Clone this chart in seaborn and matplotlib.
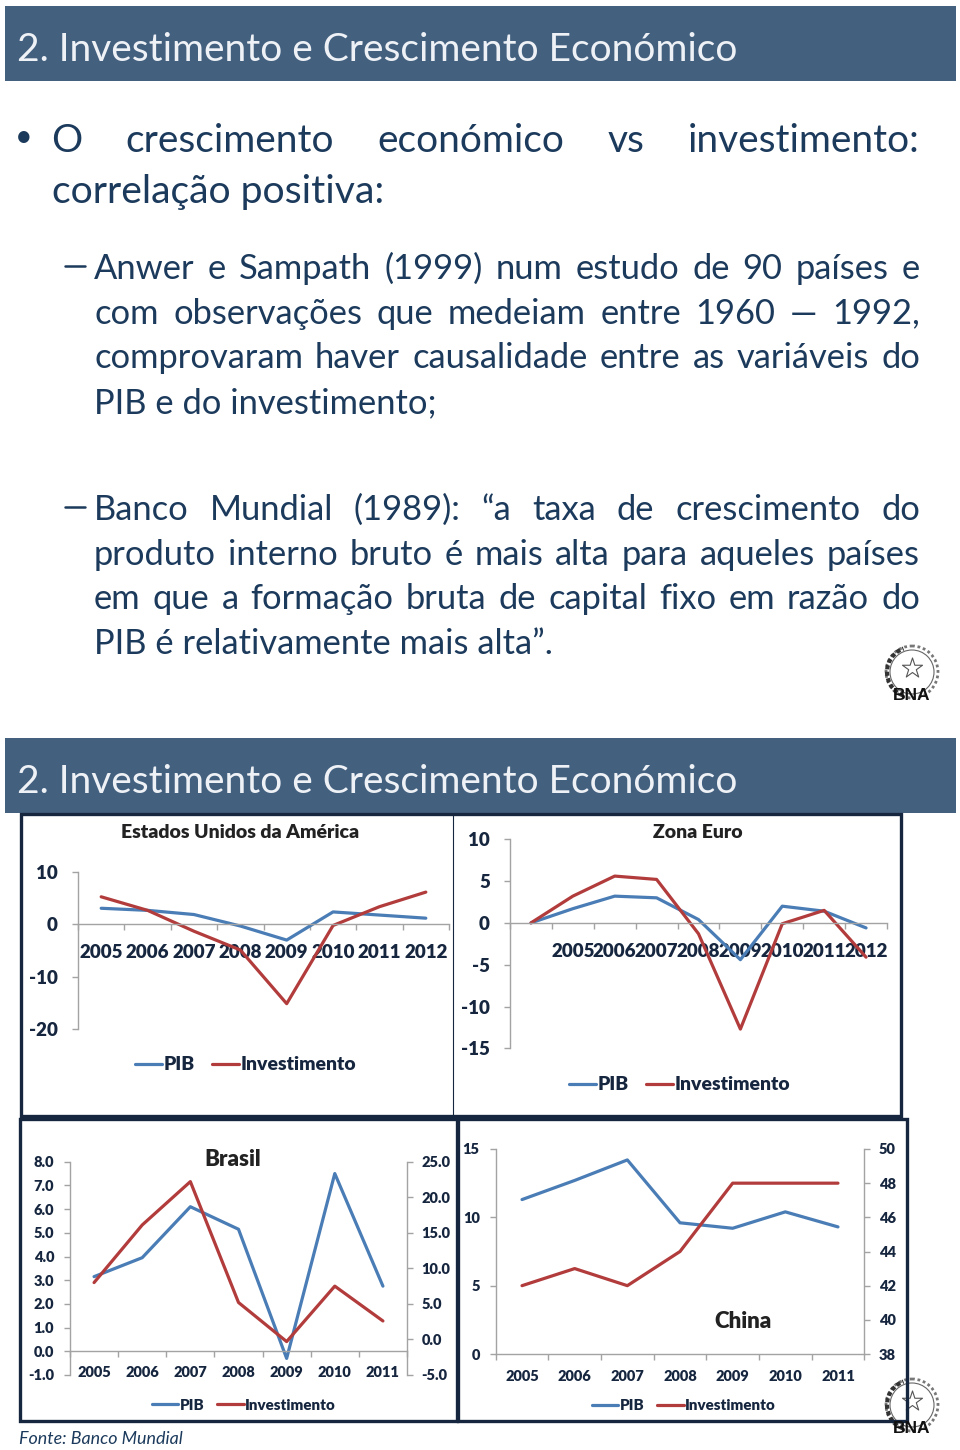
import matplotlib
matplotlib.use('Agg')
import matplotlib.pyplot as plt
from matplotlib.patches import Rectangle, Circle, Arc
import seaborn as sns

# data
years_usa = ["2005", "2006", "2007", "2008", "2009", "2010", "2011", "2012"]
usa_pib = [3.1, 2.7, 1.9, -0.3, -3.0, 2.4, 1.8, 1.2]
usa_inv = [5.3, 2.7, -1.3, -4.9, -15.2, -0.2, 3.4, 6.2]
usa_yticks = [-20, -10, 0, 10]

# the euro chart has an empty first category
years_euro = [" ", "2005", "2006", "2007", "2008", "2009", "2010", "2011", "2012"]
euro_pib = [0.0, 1.7, 3.2, 3.0, 0.4, -4.4, 2.0, 1.4, -0.6]
euro_inv = [0.0, 3.2, 5.6, 5.2, -1.3, -12.7, -0.1, 1.5, -4.1]
euro_yticks = [-15, -10, -5, 0, 5, 10]

years_short = ["2005", "2006", "2007", "2008", "2009", "2010", "2011"]
brasil_pib = [3.15, 3.95, 6.1, 5.15, -0.3, 7.5, 2.75]
brasil_inv = [8.0, 16.1, 22.2, 5.2, -0.3, 7.5, 2.6]
brasil_yticks = [-1, 0, 1, 2, 3, 4, 5, 6, 7, 8]
brasil_y2ticks = [-5, 0, 5, 10, 15, 20, 25]

china_pib = [11.3, 12.7, 14.2, 9.6, 9.2, 10.4, 9.3]
china_inv = [42, 43, 42, 44, 48, 48, 48]
china_yticks = [0, 5, 10, 15]
china_y2ticks = [38, 40, 42, 44, 46, 48, 50]

HEADER = "2. Investimento e Crescimento Económico"
LINE_TOP = "O crescimento económico vs investimento:"
LINE_TOP2 = "correlação positiva:"
PARA1 = ["Anwer e Sampath (1999) num estudo de 90 países e",
         "com observações que medeiam entre 1960 — 1992,",
         "comprovaram haver causalidade entre as variáveis do",
         "PIB e do investimento;"]
PARA2 = ["Banco Mundial (1989): “a taxa de crescimento do",
         "produto interno bruto é mais alta para aqueles países",
         "em que a formação bruta de capital fixo em razão do",
         "PIB é relativamente mais alta”."]

BLUE = "#4a7db5"
RED = "#b23c3c"
NAVY = "#16263f"
BODY = "#1c3a5c"
GREY = "#a3a3a3"
BAR = "#44607f"
HEAVY = 800

sns.set_style("white")
plt.rcParams['font.family'] = ['Lato', 'DejaVu Sans']

W, H = 960, 1450
fig = plt.figure(figsize=(W / 100, H / 100), dpi=100)

# overlay in pixel coordinates for the slide furniture
page = fig.add_axes([0, 0, 1, 1], zorder=5)
page.set_xlim(0, W)
page.set_ylim(H, 0)
page.axis('off')
page.patch.set_alpha(0)
renderer = fig.canvas.get_renderer()


def justified(line, x0, x1, base, size):
    words = line.split()
    items = [page.text(0, base, w, fontsize=size, color=BODY, va='baseline') for w in words]
    widths = [t.get_window_extent(renderer).width for t in items]
    gap = (x1 - x0 - sum(widths)) / (len(words) - 1)
    x = x0
    for t, w in zip(items, widths):
        t.set_x(x)
        x += w + gap


def logo(cx, cy):
    page.add_patch(Circle((cx, cy - 6), 22, fill=False, ec="#666666", lw=0.8))
    page.add_patch(Circle((cx, cy - 6), 26, fill=False, ec="#777777", lw=2.0, ls=(0, (1, 1))))
    page.add_patch(Arc((cx, cy - 6), 50, 50, theta1=110, theta2=250, ec="#333333", lw=3, ls=(0, (1, 0.6))))
    page.scatter([cx], [cy - 10], marker='*', s=230, facecolor='white', edgecolor="#555555", linewidth=0.8)
    page.text(cx, cy + 22, "BNA", fontsize=12.5, family='Liberation Sans', color="#111111",
              ha='center', va='baseline', fontweight='bold')


def draw_chart(box, years, pib, inv, yticks, ylim, labelsize, pad, ypad, legend_at, handle_len,
               y2ticks=None, y2lim=None, fmt="%d", y2fmt="%d"):
    left, top, right, bottom = box
    ax = fig.add_axes([left / W, 1 - bottom / H, (right - left) / W, (bottom - top) / H])
    ax.patch.set_alpha(0)
    sns.lineplot(x=years, y=pib, ax=ax, color=BLUE, lw=2.3, label="PIB", sort=False, legend=False)
    target = ax
    if y2ticks is not None:
        target = ax.twinx()
        target.patch.set_alpha(0)
    sns.lineplot(x=years, y=inv, ax=target, color=RED, lw=2.3, label="Investimento", sort=False, legend=False)

    n = len(years)
    ax.set_xlim(-0.5, n - 0.5)
    ax.set_ylim(*ylim)
    # spine first, moving it resets the ticks
    ax.spines['bottom'].set_position(('data', 0))
    ax.set_yticks(yticks)
    ax.set_yticklabels([fmt % v for v in yticks], fontsize=labelsize, fontweight=HEAVY, color=NAVY)
    ax.set_xticks([i - 0.5 for i in range(n + 1)])
    ax.set_xticklabels([])
    ax.set_xticks(range(n), minor=True)
    ax.set_xticklabels(years, minor=True, fontsize=labelsize, fontweight=HEAVY, color=NAVY)
    ax.tick_params(axis='x', which='major', length=4.5, width=1, color=GREY, bottom=True, direction='out')
    ax.tick_params(axis='x', which='minor', length=0, pad=pad, bottom=True)
    ax.tick_params(axis='y', length=4.5, width=1, color=GREY, left=True, pad=ypad)
    ax.set_xlabel("")
    ax.set_ylabel("")
    for name in ['top', 'right']:
        ax.spines[name].set_visible(False)
    for name in ['left', 'bottom']:
        ax.spines[name].set_color(GREY)
        ax.spines[name].set_linewidth(1)

    handles, labels = ax.get_legend_handles_labels()
    if target is not ax:
        h2, l2 = target.get_legend_handles_labels()
        handles += h2
        labels += l2
        target.set_ylim(*y2lim)
        target.set_yticks(y2ticks)
        target.set_yticklabels([y2fmt % v for v in y2ticks], fontsize=labelsize, fontweight=HEAVY, color=NAVY)
        target.tick_params(axis='y', length=4.5, width=1, color=GREY, right=True, pad=6)
        target.set_ylabel("")
        for name in ['top', 'left', 'bottom']:
            target.spines[name].set_visible(False)
        target.spines['right'].set_color(GREY)
        target.spines['right'].set_linewidth(1)
    target.legend(handles, labels, loc='center left',
                  bbox_to_anchor=(legend_at[0] / W, 1 - legend_at[1] / H), bbox_transform=fig.transFigure,
                  ncol=2, frameon=False, borderpad=0, borderaxespad=0, handlelength=handle_len,
                  handletextpad=0.1, columnspacing=0.85,
                  prop={'size': labelsize * 1.035, 'weight': HEAVY}, labelcolor=NAVY)


# headers
for y0, y1, base in [(6, 81, 61), (738, 813, 793)]:
    page.add_patch(Rectangle((5, y0), 951, y1 - y0, fc=BAR, ec='none'))
    page.text(17, base, HEADER, fontsize=28, color="#eef2f6", va='baseline')

# top slide text
page.text(24, 137, "•", fontsize=22, color=BODY, ha='center', va='center')
justified(LINE_TOP, 51, 920, 152, 28)
page.text(52, 203, LINE_TOP2, fontsize=28.2, color=BODY, va='baseline')

for lines, first in [(PARA1, 279), (PARA2, 520)]:
    page.plot([65, 85], [first - 13, first - 13], color=BODY, lw=1.8)
    for i, line in enumerate(lines):
        base = first + i * 44.6
        if i < len(lines) - 1:
            justified(line, 94, 920, base, 24.8)
        else:
            page.text(94, base, line, fontsize=24.8, color=BODY, va='baseline')

logo(912, 678)
logo(912, 1411)

# chart frames
for x0, y0, x1, y1 in [(21, 814, 901, 1116), (20, 1119, 457, 1421), (458, 1119, 907, 1421)]:
    page.add_patch(Rectangle((x0, y0), x1 - x0, y1 - y0, fill=False, ec=NAVY, lw=2.4))
page.plot([453, 453], [814, 1116], color=NAVY, lw=0.8)

draw_chart((78, 872.3, 449, 1028.7), years_usa, usa_pib, usa_inv, usa_yticks, (-20, 10), 13.5, 14.4, 10, (135, 1065), 1.4)
draw_chart((510, 839.3, 887, 1048.3), years_euro, euro_pib, euro_inv, euro_yticks, (-15, 10), 13.5, 14.4, 10, (569, 1085), 1.4)
draw_chart((70, 1161.7, 407, 1375), years_short, brasil_pib, brasil_inv, brasil_yticks, (-1, 8), 10.5, 10.8, 7, (152, 1405), 1.75,
           y2ticks=brasil_y2ticks, y2lim=(-5, 25), fmt="%.1f", y2fmt="%.1f")
draw_chart((495.7, 1149, 864.3, 1354), years_short, china_pib, china_inv, china_yticks, (0, 15), 10.5, 11.5, 7, (592, 1406), 1.75,
           y2ticks=china_y2ticks, y2lim=(38, 50))

page.text(240, 832, "Estados Unidos da América", fontsize=14, fontweight=HEAVY, color="#222222", ha='center', va='center')
page.text(698, 832, "Zona Euro", fontsize=14, fontweight=HEAVY, color="#222222", ha='center', va='center')
page.text(233, 1160, "Brasil", fontsize=16, fontweight=HEAVY, color="#222222", ha='center', va='center')
page.text(743, 1322, "China", fontsize=16, fontweight=HEAVY, color="#222222", ha='center', va='center')
page.text(19, 1444, "Fonte: Banco Mundial", fontsize=12.9, style='italic', color=BODY, va='baseline')

fig.savefig("out.png", dpi=100)
